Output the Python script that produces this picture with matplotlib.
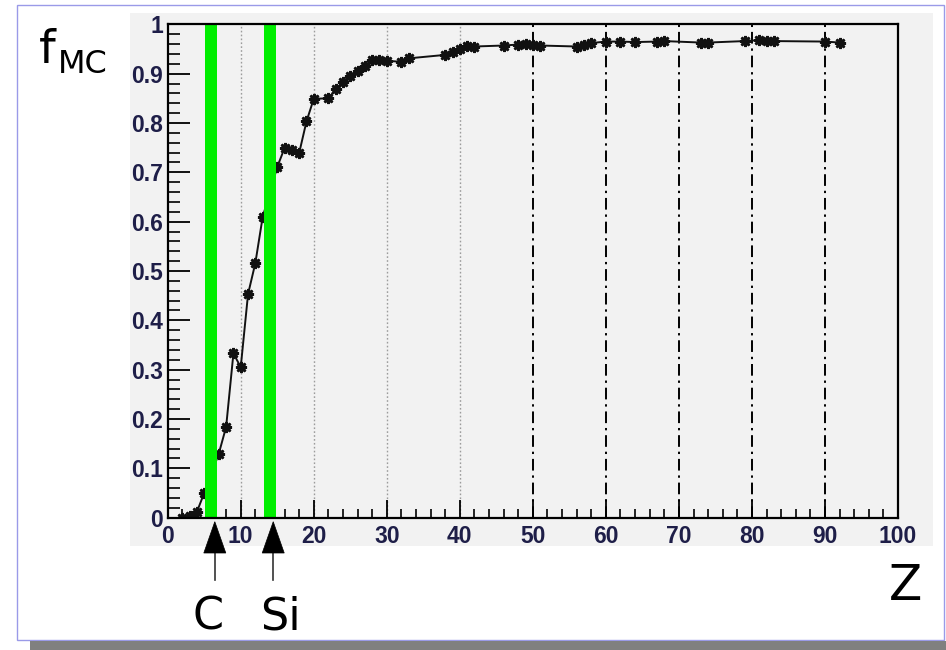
import matplotlib
matplotlib.use("Agg")
import matplotlib.pyplot as plt
from matplotlib.patches import Rectangle, Polygon
from matplotlib.lines import Line2D
from matplotlib.ticker import MultipleLocator, FuncFormatter

# Fraction of MC events per target element Z
z_values = [2, 3, 4, 5, 7, 8, 9, 10, 11, 12, 13, 15, 16, 17, 18, 19, 20,
            22, 23, 24, 25, 26, 27, 28, 29, 30, 32, 33, 38, 39, 40, 41, 42,
            46, 48, 49, 50, 51, 56, 57, 58, 60, 62, 64, 67, 68, 73, 74,
            79, 81, 82, 83, 90, 92]
f_mc = [0.0, 0.003, 0.012, 0.05, 0.13, 0.184, 0.333, 0.305, 0.453, 0.516,
        0.609, 0.711, 0.749, 0.745, 0.739, 0.803, 0.849,
        0.85, 0.868, 0.884, 0.895, 0.905, 0.916, 0.928, 0.928, 0.926,
        0.924, 0.931, 0.938, 0.944, 0.95, 0.957, 0.955,
        0.957, 0.959, 0.96, 0.959, 0.957, 0.955, 0.959, 0.962,
        0.965, 0.965, 0.964, 0.965, 0.966, 0.963, 0.963,
        0.966, 0.968, 0.967, 0.966, 0.965, 0.963]

# Highlighted detector elements
element_names = ["C", "Si"]
element_z = [6, 14]

dotted_grid_z = [10, 20, 30, 40]
dashdot_grid_z = [50, 60, 70, 80, 90]

W, H = 946, 650
fig = plt.figure(figsize=(W / 100, H / 100), dpi=100)
fig.patch.set_facecolor("white")


def fx(x):
    return x / W


def fy(y):
    return 1 - y / H


# frame around the slide and its drop shadow
fig.patches.append(Rectangle((fx(17), fy(640)), fx(944) - fx(17), fy(5) - fy(640),
                             transform=fig.transFigure, fill=False,
                             edgecolor="#9a9ae8", lw=1.0, zorder=-2))
fig.patches.append(Rectangle((fx(30), fy(650)), fx(946) - fx(30), fy(641) - fy(650),
                             transform=fig.transFigure, facecolor="#808080",
                             edgecolor="none", zorder=-2))
# canvas background
fig.patches.append(Rectangle((fx(130), fy(546)), fx(933) - fx(130), fy(13) - fy(546),
                             transform=fig.transFigure, facecolor="#f2f2f2",
                             edgecolor="none", zorder=-1))

ax = fig.add_axes([fx(167.7), fy(517.7), fx(898) - fx(167.7), fy(24.3) - fy(517.7)])
ax.set_zorder(2)
ax.set_facecolor("#f2f2f2")
ax.set_xlim(0, 100)
ax.set_ylim(0, 1)

for z in dotted_grid_z:
    ax.axvline(z, color="#9c9c9c", lw=1.0, ls=(0, (1.2, 1.6)), zorder=1)
for z in dashdot_grid_z:
    ax.axvline(z, color="black", lw=1.4, ls=(0, (6, 2.5, 1.2, 2.5)), zorder=1)

ax.plot(z_values, f_mc, color="#111111", lw=1.4, marker=(8, 2, 0), ms=8,
        mew=1.9, mec="#111111", zorder=3)

for z in element_z:
    ax.axvspan(z - 0.85, z + 0.8, color="#00ee00", lw=0, zorder=4)

for s in ax.spines.values():
    s.set_linewidth(1.6)
    s.set_color("black")
    s.set_zorder(5)

ax.xaxis.set_major_locator(MultipleLocator(10))
ax.xaxis.set_minor_locator(MultipleLocator(2))
ax.yaxis.set_major_locator(MultipleLocator(0.1))
ax.yaxis.set_minor_locator(MultipleLocator(0.02))
ax.tick_params(axis="x", which="major", direction="in", length=13, width=1.3, pad=5)
ax.tick_params(axis="x", which="minor", direction="in", length=6.5, width=1.2)
ax.tick_params(axis="y", which="major", direction="in", length=16, width=1.3, pad=3.5)
ax.tick_params(axis="y", which="minor", direction="in", length=8.5, width=1.2)
ax.tick_params(which="both", top=False, right=False)


def yfmt(v, _):
    if abs(v) < 1e-9:
        return "0"
    if abs(v - 1) < 1e-9:
        return "1"
    return f"{v:.1f}"


ax.yaxis.set_major_formatter(FuncFormatter(yfmt))
ax.xaxis.set_major_formatter(FuncFormatter(lambda v, _: f"{int(round(v))}"))
for lab in ax.get_xticklabels() + ax.get_yticklabels():
    lab.set_fontfamily("Liberation Sans")
    lab.set_fontweight("bold")
    lab.set_fontsize(16.5)
    lab.set_color("#1e1e48")

# axis titles
fig.text(fx(39), fy(63), "f", fontsize=34, family="DejaVu Sans", ha="left", va="baseline")
fig.text(fx(58), fy(73), "MC", fontsize=23, family="DejaVu Sans", ha="left", va="baseline")
fig.text(fx(905), fy(600), "Z", fontsize=35, family="DejaVu Sans", ha="center", va="baseline")

# arrows marking the highlighted elements
label_px = [208.5, 280.5]
for name, z, lx in zip(element_names, element_z, label_px):
    xpix = ax.transData.transform((z + 0.45, 0))[0]
    tri = Polygon([(fx(xpix), fy(521.7)), (fx(xpix - 11), fy(553)), (fx(xpix + 11), fy(553))],
                  closed=True, transform=fig.transFigure, facecolor="black",
                  edgecolor="black", lw=0.5, zorder=3)
    fig.patches.append(tri)
    fig.lines.append(Line2D([fx(xpix), fx(xpix)], [fy(553), fy(580)],
                            transform=fig.transFigure, color="#333333", lw=1.2))
    fig.text(fx(lx), fy(630), name, fontsize=32, family="DejaVu Sans",
             ha="center", va="baseline")

fig.savefig("out.png", dpi=100)
